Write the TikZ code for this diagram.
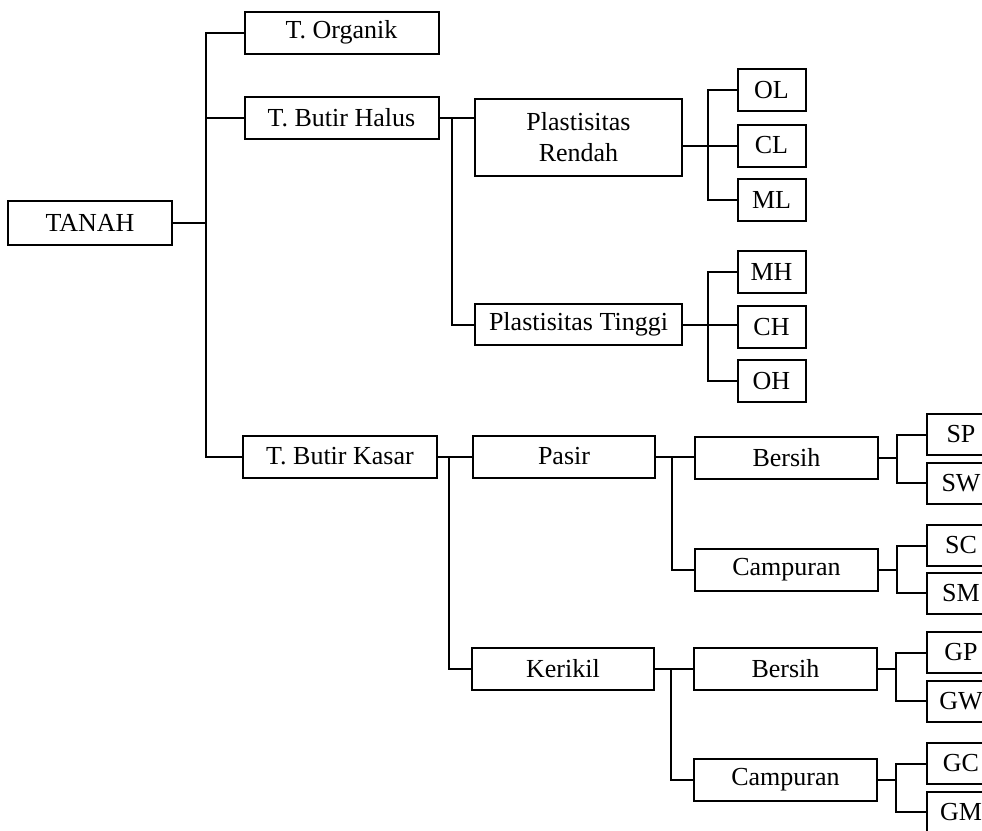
\documentclass[tikz,border=0pt]{standalone}
\usepackage{fontspec}
\setmainfont{Liberation Serif}

\begin{document}
\begin{tikzpicture}[x=0.5pt, y=-0.5pt, line width=1pt,
    box/.style={draw, inner sep=0pt, minimum height=21pt,
      font=\fontsize{13}{15.5}\selectfont, align=center},
    leaf/.style={box, minimum width=34pt}]
  % Page frame: the rightmost column is cut off at the edge
  \useasboundingbox (0,0) rectangle (982,831);
  \clip (0,0) rectangle (982,831);

  % Root and first level
  \node[box, minimum width=82pt, minimum height=22pt] (tanah) at (90,223) {TANAH};
  \node[box, minimum width=97pt] (organik) at (341.5,32.5) {T. Organik};
  \node[box, minimum width=97pt] (halus) at (341.5,118) {T. Butir Halus};
  \node[box, minimum width=97pt] (kasar) at (340,456.5) {T. Butir Kasar};

  % Fine grained branch
  \node[box, minimum width=103.5pt, minimum height=38.5pt] (rendah) at (578.5,137.5) {Plastisitas\\Rendah};
  \node[box, minimum width=103.5pt, minimum height=20.5pt] (tinggi) at (578.5,324.5) {Plastisitas Tinggi};
  \foreach \lbl/\y in {OL/90, CL/145.5, ML/200, MH/272, CH/327, OH/381} {
    \node[leaf] (\lbl) at (771.5,\y) {\lbl};
  }

  % Coarse grained branch
  \node[box, minimum width=91pt] (pasir) at (564,456.5) {Pasir};
  \node[box, minimum width=91pt] (kerikil) at (563,668.5) {Kerikil};
  \node[box, minimum width=91.5pt] (bersihS) at (786.5,458) {Bersih};
  \node[box, minimum width=91.5pt] (campuranS) at (786.5,569.5) {Campuran};
  \node[box, minimum width=91.5pt] (bersihG) at (785.5,668.5) {Bersih};
  \node[box, minimum width=91.5pt] (campuranG) at (785.5,779.5) {Campuran};
  \foreach \lbl/\y in {SP/434.5, SW/483, SC/545.5, SM/593, GP/652.5, GW/701, GC/763.5, GM/812} {
    \node[leaf, minimum height=20.5pt] (\lbl) at (961,\y) {\lbl};
  }

  % Bus points of the tree
  \coordinate (b0) at (206,223);
  \coordinate (b1) at (452,118);
  \coordinate (b2) at (708,145.5);
  \coordinate (b3) at (708,325);
  \coordinate (b4) at (449,456.5);
  \coordinate (b5) at (672,457);
  \coordinate (b6) at (671,668.5);
  \coordinate (b7) at (897,458);
  \coordinate (b8) at (897,569.5);
  \coordinate (b9) at (896,668.5);
  \coordinate (b10) at (896,779.5);

  % Connectors
  \draw (tanah.east) -- (b0);
  \draw (organik.west) -| (b0) |- (kasar.west);
  \draw (halus.west) -- (halus.west -| b0);

  \draw (halus.east) -- (rendah.west |- halus.east);
  \draw (b1) |- (tinggi.west);
  \draw (rendah.east |- b2) -- (CL.west);
  \draw (OL.west) -| (b2) |- (ML.west);
  \draw (tinggi.east |- b3) -- (b3 -| CH.west);
  \draw (MH.west) -| (b3) |- (OH.west);

  \draw (kasar.east) -- (pasir.west);
  \draw (b4) |- (kerikil.west);
  \draw (pasir.east |- b5) -- (b5 -| bersihS.west);
  \draw (b5) |- (campuranS.west);
  \draw (kerikil.east) -- (bersihG.west);
  \draw (b6) |- (campuranG.west);

  \draw (bersihS.east) -- (b7);
  \draw (SP.west) -| (b7) |- (SW.west);
  \draw (campuranS.east) -- (b8);
  \draw (SC.west) -| (b8) |- (SM.west);
  \draw (bersihG.east) -- (b9);
  \draw (GP.west) -| (b9) |- (GW.west);
  \draw (campuranG.east) -- (b10);
  \draw (GC.west) -| (b10) |- (GM.west);
\end{tikzpicture}
\end{document}
